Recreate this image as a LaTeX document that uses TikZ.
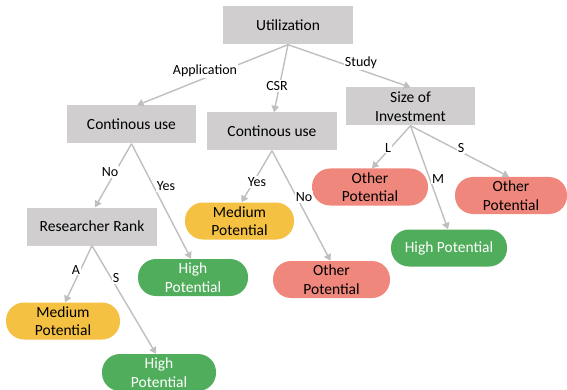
\documentclass[tikz,border=0pt]{standalone}
\usepackage{fontspec}
\setmainfont{Carlito}
\usetikzlibrary{arrows.meta}
\definecolor{boxgray}{HTML}{D0CECE}
\definecolor{medyel}{HTML}{F5C142}
\definecolor{higreen}{HTML}{4FAD5B}
\definecolor{othred}{HTML}{F0877C}
\definecolor{arrgray}{HTML}{BFBFBF}
\tikzset{
  gbox/.style={fill=boxgray, minimum width=130pt, minimum height=38pt, inner sep=0pt, align=center, font=\fontsize{15.5}{18.5}\selectfont},
  pill/.style={rounded corners=18pt, minimum height=37pt, inner sep=0pt, align=center, font=\fontsize{15.5}{18.5}\selectfont},
  med/.style={pill, fill=medyel, text=black},
  high/.style={pill, fill=higreen, text=white},
  oth/.style={pill, fill=othred, text=black},
  conn/.style={draw=arrgray, line width=1.4pt, -{Triangle[width=7.5pt,length=6.5pt]}},
  lbl/.style={fill=white, inner sep=1pt, font=\fontsize{14}{16}\selectfont}
}
\begin{document}
\begin{tikzpicture}[x=1pt,y=-1pt]
\useasboundingbox (0,0) rectangle (567,390);
% gray decision boxes
\node[gbox] (util) at (288,25.5) {Utilization};
\node[gbox, minimum width=129pt] (cl) at (131.5,124.5) {Continous use};
\node[gbox] (cm) at (272,131.5) {Continous use};
\node[gbox, minimum width=129pt] (size) at (410.5,106.5) {Size of\\Investment};
\node[gbox] (rr) at (92,226.5) {Researcher Rank};
% leaves
\node[high, minimum width=110pt] (h1) at (193,277.5) {High\\Potential};
\node[med, minimum width=114pt] (m1) at (63,321) {Medium\\Potential};
\node[high, minimum width=114pt] (h2) at (159,372.5) {High\\Potential};
\node[med, minimum width=109pt] (m2) at (239.5,221) {Medium\\Potential};
\node[oth, minimum width=117pt] (o1) at (331.5,279.5) {Other\\Potential};
\node[oth, minimum width=116pt] (oL) at (370,187) {Other\\Potential};
\node[high, minimum width=116pt] (hM) at (449,248) {High Potential};
\node[oth, minimum width=112pt] (oS) at (511,195.5) {Other\\Potential};
% connectors
\draw[conn] (util.south) -- ([xshift=5.5pt]cl.north);
\draw[conn] (util.south) -- ([xshift=2pt]cm.north);
\draw[conn] (util.south) -- (size.north);
\draw[conn] (cl.south) -- ([xshift=3pt]rr.north);
\draw[conn] (cl.south) -- ([xshift=-2pt]h1.north);
\draw[conn] (rr.south) -- ([xshift=2pt]m1.north);
\draw[conn] (rr.south) -- ([xshift=-3pt]h2.north);
\draw[conn] (cm.south) -- ([xshift=2pt]m2.north);
\draw[conn] (cm.south) -- ([xshift=-1pt]o1.north);
\draw[conn] (size.south) -- ([xshift=2pt]oL.north);
\draw[conn] (size.south) -- ([xshift=-1pt]hM.north);
\draw[conn] (size.south) -- ([xshift=-2pt]oS.north);
% edge labels
\node[lbl] (lapp) at (205,71) {Application};
\node[lbl] (lcsr) at (277,86) {CSR};
\node[lbl] (lstu) at (361,63) {Study};
\node[lbl] (lno1) at (110,172) {No};
\node[lbl] (lyes1) at (166,186) {Yes};
\node[lbl] (lyes2) at (257,182) {Yes};
\node[lbl] (lno2) at (304,197) {No};
\node[lbl] (lA) at (76,270) {A};
\node[lbl] (lS1) at (116,278) {S};
\node[lbl] (lL) at (388,148) {L};
\node[lbl] (lM) at (438,179) {M};
\node[lbl] (lS2) at (461,148) {S};
\end{tikzpicture}
\end{document}
